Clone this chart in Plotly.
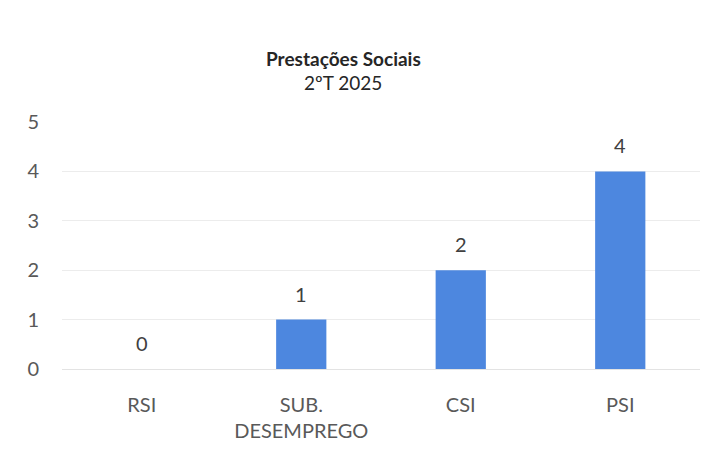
import plotly.graph_objects as go

categories = ["RSI", "SUB.<br>DESEMPREGO", "CSI", "PSI"]
values = [0, 1, 2, 4]
y_ticks = [0, 1, 2, 3, 4, 5]
title_main = "Prestações Sociais"
title_sub = "2ºT 2025"

FONT = "Lato, 'Open Sans', sans-serif"
W, H = 708, 452
ML, MR, MT, MB = 62, 8, 122, 83

fig = go.Figure(go.Bar(
    x=categories, y=values,
    marker=dict(color="#4d87df", line=dict(width=0)),
    width=0.315,
    hoverinfo="x+y",
))

# data labels placed above each bar end
for c, v in zip(categories, values):
    fig.add_annotation(x=c, y=v, xref="x", yref="y", text=str(v), showarrow=False,
                       yshift=26, font=dict(family=FONT, size=20, color="#404040"))

pw = W - ML - MR
ph = H - MT - MB
def px_to_paper_x(px):
    return (px - ML) / pw
def px_to_paper_y(py):
    return (H - MB - py) / ph

fig.add_annotation(text="<b>" + title_main + "</b>", x=px_to_paper_x(343), y=px_to_paper_y(58),
                   xref="paper", yref="paper", showarrow=False, xanchor="center", yanchor="middle",
                   font=dict(family=FONT, size=19, color="#262626"))
fig.add_annotation(text=title_sub, x=px_to_paper_x(343), y=px_to_paper_y(83),
                   xref="paper", yref="paper", showarrow=False, xanchor="center", yanchor="middle",
                   font=dict(family=FONT, size=19, color="#262626"))

fig.update_layout(
    width=W, height=H,
    margin=dict(l=ML, r=MR, t=MT, b=MB, autoexpand=False),
    paper_bgcolor="white", plot_bgcolor="white",
    showlegend=False,
    font=dict(family=FONT, color="#595959", size=19),
)

fig.update_xaxes(
    showline=False, showgrid=False, zeroline=False, ticks="",
    tickfont=dict(family=FONT, size=20, color="#595959"), ticklabelstandoff=22,
    automargin=False,
)
fig.update_yaxes(
    range=[0, 5], tickvals=y_ticks, showgrid=True, gridcolor="#ececec", gridwidth=1,
    zeroline=True, zerolinecolor="#e3e3e3", zerolinewidth=1, showline=False, ticks="",
    tickfont=dict(family=FONT, size=20, color="#595959"), ticklabelstandoff=22,
    automargin=False,
)

fig.write_html("out.html", config={"displayModeBar": False},
               post_script="document.body.style.margin='0';")
